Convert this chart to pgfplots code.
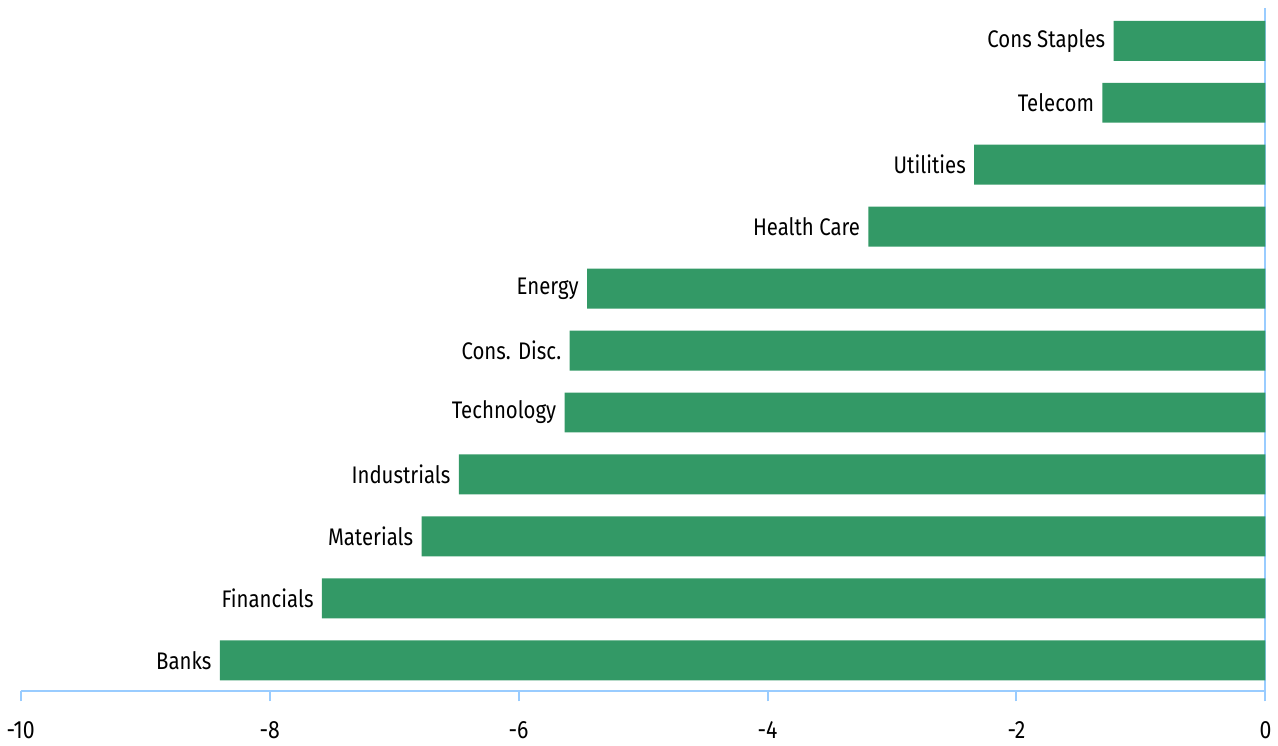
\documentclass[border=0pt]{standalone}
\usepackage{pgfplots}
\pgfplotsset{compat=1.18}
\usepackage{fontspec}
\setmainfont{Fira Sans}[FakeStretch=0.85]
\definecolor{bargreen}{RGB}{51,153,102}
\definecolor{axisblue}{RGB}{153,204,255}
\begin{document}
\begin{tikzpicture}
\begin{axis}[
  scale only axis,
  width=623pt, height=342pt,
  xbar, bar width=20pt,
  xmin=-10, xmax=0,
  ymin=-0.5, ymax=10.53,
  axis x line=bottom, axis y line=right,
  axis line style={axisblue, line width=1pt, -},
  xtick={-10,-8,-6,-4,-2,0},
  ytick=\empty,
  tick align=outside,
  major tick length=5pt,
  every tick/.style={axisblue, line width=1pt},
  xticklabel style={font=\fontsize{12.5}{14}\selectfont, yshift=-6.5pt},
  /pgf/number format/assume math mode=true,
  point meta=explicit symbolic,
  nodes near coords,
  every node near coord/.append style={anchor=east, font=\fontsize{12}{14}\selectfont, inner xsep=4pt, text=black},
]
\addplot[fill=bargreen, draw=none] table[col sep=comma, x=v, y=i, meta=lab] {
i,v,lab
0,-8.40,Banks
1,-7.58,Financials
2,-6.78,Materials
3,-6.48,Industrials
4,-5.63,Technology
5,-5.59,Cons. Disc.
6,-5.45,Energy
7,-3.19,Health Care
8,-2.34,Utilities
9,-1.31,Telecom
10,-1.22,Cons Staples
};
\end{axis}
\path ([yshift=4pt]current axis.north east);
\end{tikzpicture}
\end{document}
